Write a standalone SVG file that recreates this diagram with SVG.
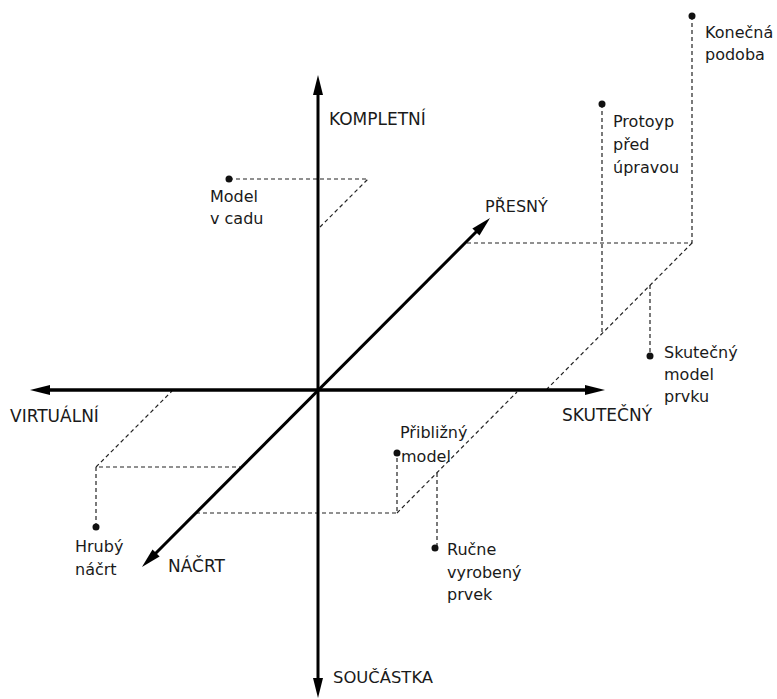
<svg xmlns="http://www.w3.org/2000/svg" width="777" height="699" viewBox="0 0 777 699">
<style>
text{font-family:"DejaVu Sans","Liberation Sans",sans-serif;font-size:16px;fill:#1a1a1a}
.cap{font-size:17px}
.axis{stroke:#000;stroke-width:3;fill:none}
.dash{stroke:#222;stroke-width:1.2;stroke-dasharray:4 3;fill:none}
.dot{fill:#111}
</style>
<defs>
<marker id="ah" viewBox="0 0 20 10" refX="10" refY="5" markerWidth="20" markerHeight="10" markerUnits="userSpaceOnUse" orient="auto-start-reverse">
<path d="M0,0 L20,5 L0,10 Z" fill="#000"/>
</marker>
</defs>
<rect width="777" height="699" fill="#fff"/>
<g id="connectors">
<path class="dash" d="M229,179 H368 L320,227"/>
<path class="dash" d="M692,16 V243 H465"/>
<path class="dash" d="M692,243 L547,389"/>
<path class="dash" d="M602,104 V335"/>
<path class="dash" d="M650,285 V356"/>
<path class="dash" d="M96,527 V467 H240"/>
<path class="dash" d="M96,467 L172,391"/>
<path class="dash" d="M196,513 H397 V453"/>
<path class="dash" d="M397,513 L517,392"/>
<path class="dash" d="M437,473 V548"/>
</g>
<g id="axes">
<line class="axis" x1="318" y1="688" x2="318" y2="85" marker-start="url(#ah)" marker-end="url(#ah)"/>
<line class="axis" style="stroke-width:3.5" x1="40" y1="390" x2="595" y2="390" marker-start="url(#ah)" marker-end="url(#ah)"/>
<line class="axis" x1="149" y1="560" x2="483" y2="225" marker-start="url(#ah)" marker-end="url(#ah)"/>
</g>
<g id="axis-labels">
<text class="cap" x="329" y="125">KOMPLETNÍ</text>
<text x="333" y="683" style="font-size:16.4px">SOUČÁSTKA</text>
<text class="cap" x="10" y="422">VIRTUÁLNÍ</text>
<text class="cap" x="562" y="421">SKUTEČNÝ</text>
<text x="485" y="212">PŘESNÝ</text>
<text class="cap" x="168" y="572">NÁČRT</text>
</g>
<g id="model-v-cadu">
<circle class="dot" cx="229" cy="179" r="3.5"/>
<text x="210" y="202">Model</text>
<text x="210" y="224">v cadu</text>
</g>
<g id="konecna-podoba">
<circle class="dot" cx="692" cy="16" r="3.5"/>
<text x="705" y="38">Konečná</text>
<text x="705" y="60">podoba</text>
</g>
<g id="protoyp">
<circle class="dot" cx="602" cy="104" r="3.5"/>
<text x="613" y="127">Protoyp</text>
<text x="613" y="150">před</text>
<text x="613" y="173">úpravou</text>
</g>
<g id="skutecny-model">
<circle class="dot" cx="650" cy="356" r="3.5"/>
<text x="664" y="358">Skutečný</text>
<text x="664" y="380">model</text>
<text x="664" y="402">prvku</text>
</g>
<g id="hruby-nacrt">
<circle class="dot" cx="96" cy="527" r="3.5"/>
<text x="75" y="552">Hrubý</text>
<text x="75" y="575">náčrt</text>
</g>
<g id="priblizny-model">
<circle class="dot" cx="397" cy="453" r="3.5"/>
<text x="400" y="438">Přibližný</text>
<text x="401" y="462">model</text>
</g>
<g id="rucne-vyrobeny">
<circle class="dot" cx="435" cy="548" r="3.5"/>
<text x="447" y="555">Ručne</text>
<text x="447" y="578">vyrobený</text>
<text x="447" y="600">prvek</text>
</g>
</svg>
